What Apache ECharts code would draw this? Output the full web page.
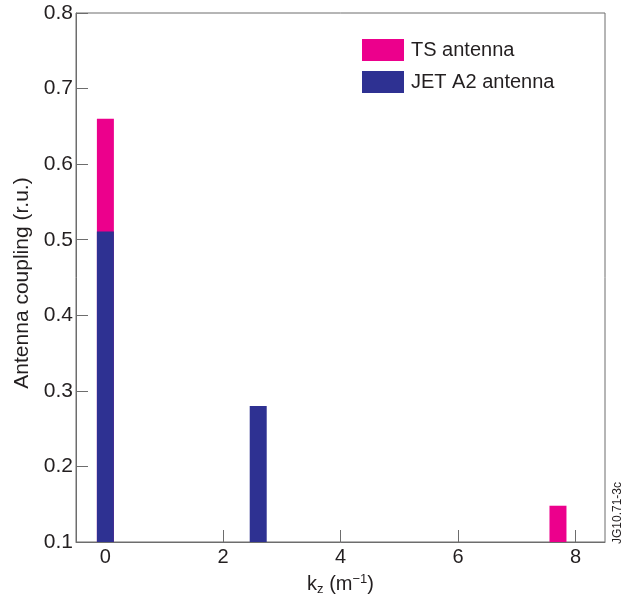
<!DOCTYPE html>
<html>
<head>
<meta charset="utf-8">
<script src="https://cdn.jsdelivr.net/npm/echarts@6/dist/echarts.min.js"></script>
<style>
  html, body { margin: 0; padding: 0; background: #fff; }
  #chart { width: 627px; height: 599px; }
</style>
</head>
<body>
<div id="chart"></div>
<script>
// values
const kz = [0, 2.6, 7.7];
const tsCoupling = [0.66, null, 0.148];
const jetCoupling = [0.511, 0.28, null];
const xTicks = [0, 2, 4, 6, 8];
const seriesNames = ['TS antenna', 'JET A2 antenna'];

const FONT = 'Liberation Sans, Arial, Helvetica, sans-serif';
const TEXT = '#231f20';
const AXIS = '#6d6d6d';

const pairs = vals => kz.map((k, i) => [k, vals[i]]).filter(p => p[1] != null);

const myChart = echarts.init(document.getElementById('chart'));
const option = {
  animation: false,
  textStyle: { fontFamily: FONT },
  grid: {
    left: 76, right: 22, top: 13, bottom: 57,
    outerBoundsMode: 'none',
    show: true, borderColor: AXIS, borderWidth: 1
  },
  legend: {
    orient: 'vertical',
    left: 362, top: 39,
    padding: 0,
    itemWidth: 42, itemHeight: 22, itemGap: 10,
    textStyle: { fontSize: 20, color: TEXT, padding: [0, 0, 0, 2] },
    icon: 'rect',
    data: seriesNames
  },
  xAxis: {
    type: 'value',
    min: -0.5, max: 8.5,
    splitLine: { show: false },
    axisLine: { onZero: false, lineStyle: { color: AXIS } },
    axisTick: { inside: true, length: 12, customValues: xTicks, lineStyle: { color: AXIS } },
    axisLabel: { customValues: xTicks, fontSize: 20, color: TEXT, margin: 5 },
    name: '{k|k}{sub|z}{k| (m}{sup|\u22121}{k|)}',
    nameLocation: 'middle',
    nameGap: 31,
    nameTextStyle: {
      rich: {
        k: { fontSize: 20, color: TEXT, fontFamily: FONT },
        sub: { fontSize: 13, color: TEXT, fontFamily: FONT, padding: [10, 0, 0, 0] },
        sup: { fontSize: 13, color: TEXT, fontFamily: FONT, padding: [0, 0, 10, 0] }
      }
    }
  },
  yAxis: {
    type: 'value',
    min: 0.1, max: 0.8, interval: 0.1,
    splitLine: { show: false },
    axisLine: { onZero: false, lineStyle: { color: AXIS } },
    axisTick: { inside: true, length: 12, lineStyle: { color: AXIS } },
    axisLabel: { fontSize: 21, color: TEXT, margin: 3, formatter: v => v.toFixed(1) },
    name: 'Antenna coupling (r.u.)',
    nameLocation: 'middle',
    nameGap: 40,
    nameTextStyle: { fontSize: 21, color: TEXT, padding: [0, 11, 0, 0] }
  },
  graphic: [{
    type: 'text',
    left: 612, top: 482,
    rotation: Math.PI / 2,
    style: { text: 'JG10.71-3c', fontSize: 12, fill: TEXT, fontFamily: FONT }
  }],
  series: [
    {
      name: seriesNames[0],
      type: 'bar',
      barWidth: 17,
      barGap: '-100%',
      itemStyle: { color: '#ec008c' },
      data: pairs(tsCoupling)
    },
    {
      name: seriesNames[1],
      type: 'bar',
      barWidth: 17,
      barGap: '-100%',
      itemStyle: { color: '#2e3192' },
      data: pairs(jetCoupling)
    }
  ]
};
myChart.setOption(option);
</script>
</body>
</html>
